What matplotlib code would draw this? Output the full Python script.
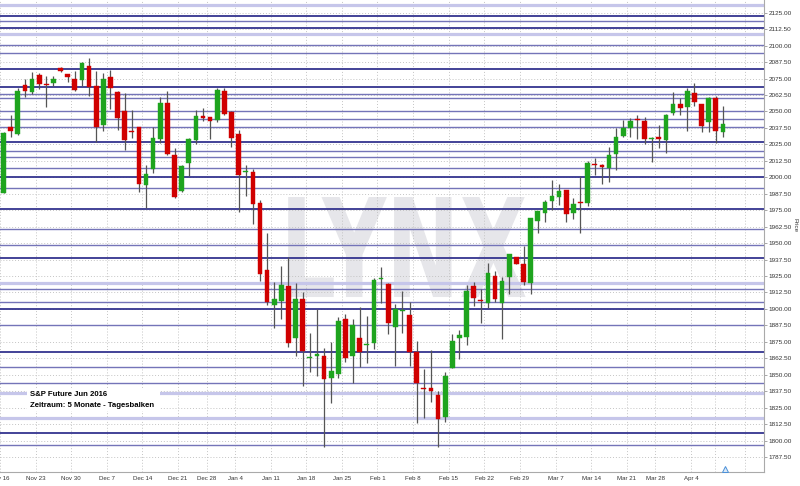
import matplotlib
matplotlib.use("Agg")
import matplotlib.pyplot as plt
from matplotlib.textpath import TextPath
from matplotlib.patches import PathPatch, Rectangle
from matplotlib.font_manager import FontProperties
from matplotlib.transforms import Affine2D

# ---- data (S&P Future Jun 2016, daily bars) ----
opens = [1988.3, 2038.2, 2032.6, 2069.9, 2064.5, 2077.9, 2071.0, 2071.8, 2083.2, 2078.6,
         2074.9, 2073.9, 2084.5, 2069.1, 2039.7, 2076.4, 2065.0, 2050.3, 2035.3, 2038.0,
         1994.1, 2006.3, 2028.8, 2056.2, 2016.9, 1989.3, 2010.6, 2028.3, 2046.3, 2045.5,
         2043.5, 2065.5, 2049.8, 2032.6, 2004.0, 2004.0, 1980.2, 1929.6, 1902.7, 1906.2,
         1917.2, 1878.1, 1907.5, 1862.7, 1864.4, 1864.2, 1847.5, 1850.5, 1892.3, 1864.0,
         1878.1, 1872.2, 1873.9, 1922.5, 1918.9, 1886.0, 1898.6, 1895.3, 1867.0, 1839.8,
         1840.1, 1834.6, 1818.1, 1855.3, 1878.1, 1878.9, 1917.4, 1906.9, 1904.3, 1925.0,
         1904.7, 1924.0, 1939.2, 1933.9, 1919.9, 1967.0, 1972.6, 1982.0, 1985.2, 1990.3,
         1972.6, 1981.1, 1980.2, 2010.2, 2009.5, 2007.3, 2017.4, 2031.6, 2037.2, 2043.8,
         2043.0, 2029.2, 2030.8, 2028.3, 2049.0, 2055.6, 2053.1, 2064.2, 2055.6, 2042.2,
         2060.0, 2034.6]
highs = [2034.3, 2047.3, 2067.6, 2074.6, 2080.2, 2079.4, 2076.9, 2076.9, 2083.7, 2078.8,
         2080.7, 2087.6, 2090.4, 2081.0, 2079.0, 2081.5, 2065.3, 2063.8, 2051.1, 2038.3,
         2009.5, 2038.2, 2061.2, 2065.8, 2022.5, 2009.0, 2029.6, 2051.1, 2052.4, 2045.8,
         2067.6, 2067.6, 2050.1, 2035.9, 2009.1, 2006.0, 1982.7, 1957.9, 1920.7, 1932.6,
         1939.2, 1919.4, 1913.1, 1881.5, 1899.7, 1870.1, 1874.6, 1894.1, 1895.9, 1892.1,
         1901.6, 1894.8, 1923.7, 1932.1, 1919.9, 1903.7, 1913.6, 1905.5, 1875.6, 1854.3,
         1868.8, 1837.9, 1852.3, 1880.9, 1884.0, 1918.1, 1920.7, 1914.9, 1934.7, 1929.0,
         1924.5, 1942.0, 1939.5, 1947.8, 1969.2, 1974.7, 1982.7, 1997.9, 1994.9, 1990.6,
         1984.5, 2001.0, 2012.4, 2014.9, 2009.8, 2023.2, 2037.6, 2043.5, 2045.0, 2047.3,
         2045.6, 2030.8, 2039.7, 2048.1, 2064.5, 2060.0, 2068.0, 2071.4, 2055.9, 2061.2,
         2061.7, 2054.1]
lows = [1987.8, 2030.8, 2032.1, 2061.2, 2063.5, 2066.8, 2053.1, 2069.3, 2080.0, 2072.6,
        2065.8, 2069.6, 2062.0, 2027.0, 2034.9, 2051.6, 2035.9, 2020.7, 2029.6, 1989.0,
        1976.4, 2003.5, 2025.8, 2016.7, 1984.5, 1988.8, 2001.2, 2025.3, 2043.0, 2028.8,
        2041.7, 2047.5, 2023.2, 1973.4, 1985.8, 1964.5, 1921.4, 1902.7, 1885.3, 1892.6,
        1871.3, 1864.4, 1841.7, 1852.3, 1849.3, 1795.3, 1828.3, 1847.7, 1859.9, 1843.5,
        1856.1, 1858.6, 1869.5, 1904.3, 1880.7, 1856.6, 1881.9, 1856.6, 1813.1, 1817.4,
        1829.1, 1794.9, 1814.3, 1854.9, 1861.7, 1872.8, 1902.4, 1889.5, 1900.5, 1905.0,
        1877.1, 1911.3, 1933.8, 1917.9, 1911.3, 1957.4, 1966.2, 1975.1, 1978.9, 1966.2,
        1968.3, 1957.9, 1978.2, 2001.7, 1994.7, 1996.6, 2005.3, 2030.8, 2030.8, 2028.8,
        2025.3, 2011.8, 2022.0, 2018.7, 2047.3, 2047.3, 2035.4, 2054.1, 2034.6, 2034.6,
        2026.3, 2030.4]
closes = [2033.8, 2035.1, 2065.8, 2065.8, 2074.6, 2070.8, 2070.4, 2074.9, 2080.5, 2076.4,
          2066.3, 2086.5, 2068.3, 2038.0, 2074.6, 2067.8, 2044.8, 2028.3, 2034.7, 1994.9,
          2002.5, 2030.1, 2056.6, 2017.7, 1985.2, 2008.6, 2029.3, 2046.5, 2045.0, 2043.0,
          2066.3, 2048.1, 2029.6, 2002.0, 2005.1, 1979.5, 1926.3, 1905.0, 1907.3, 1917.9,
          1874.3, 1907.3, 1868.0, 1863.8, 1865.5, 1847.0, 1853.1, 1891.0, 1862.5, 1887.8,
          1867.5, 1873.0, 1922.0, 1923.4, 1889.5, 1899.7, 1899.3, 1867.0, 1843.9, 1839.0,
          1837.9, 1816.1, 1849.3, 1875.6, 1880.2, 1913.8, 1908.1, 1906.2, 1927.5, 1907.5,
          1921.2, 1941.5, 1934.1, 1920.4, 1968.8, 1974.4, 1981.4, 1985.8, 1989.6, 1971.9,
          1979.7, 1980.3, 2010.6, 2009.5, 2007.6, 2016.9, 2030.8, 2037.6, 2043.0, 2043.2,
          2029.3, 2030.0, 2028.8, 2047.3, 2055.6, 2052.4, 2065.8, 2057.4, 2038.9, 2060.4,
          2035.4, 2040.5]

week_labels = ["Nov 16", "Nov 23", "Nov 30", "Dec 7", "Dec 14", "Dec 21", "Dec 28",
               "Jan 4", "Jan 11", "Jan 18", "Jan 25", "Feb 1", "Feb 8", "Feb 15",
               "Feb 22", "Feb 29", "Mar 7", "Mar 14", "Mar 21", "Mar 28", "Apr 4"]
week_first_bar = [0, 5, 10, 15, 20, 25, 29, 33, 38, 43, 48, 53, 58, 63, 68, 73, 78,
                  83, 88, 92, 97]
extra_grid_x = [99.9, 104.1]

# horizontal support/resistance lines (price, strength)
level_prices = [2131.1, 2122.5, 2118.9, 2113.2, 2108.8, 2100.5, 2094.2, 2082.0, 2068.8,
                2063.2, 2060.0, 2050.3, 2044.3, 2038.0, 2027.0, 2020.0, 2015.2, 2006.8,
                2000.4, 1991.6, 1975.7, 1960.9, 1948.3, 1938.5, 1919.9, 1914.9, 1905.0,
                1899.7, 1887.8, 1867.0, 1855.6, 1843.5, 1835.9, 1817.4, 1805.5, 1796.6]
level_kind = ["l", "d", "m", "d", "l", "m", "m", "d", "d",
              "m", "m", "m", "m", "m", "d", "m", "m", "m",
              "d", "m", "d", "m", "m", "d", "l", "m", "m",
              "d", "m", "d", "m", "m", "l", "l", "d", "m"]

y_ticks = [1787.5 + 12.5 * k for k in range(28)]

# ---- figure ----
W, H = 800, 486
fig = plt.figure(figsize=(W / 100, H / 100), dpi=100)
ax = fig.add_axes([0, 14 / H, 764 / W, 472 / H])
ax.set_facecolor("white")

x_left = -1.7 / 7.14
x_right = (764 - 1.7) / 7.14
ax.set_xlim(x_left, x_right)
ax.set_ylim(1776.1, 2134.65)

# watermark
fp = FontProperties(family="DejaVu Sans", weight="bold")
tp = TextPath((0, 0), "LYNX", prop=fp, size=1)
ext = tp.get_extents()
x0d, x1d = (287 - 1.7) / 7.14, (525 - 1.7) / 7.14
y0d, y1d = 2134.65 - 297 * 0.75965, 2134.65 - 197 * 0.75965
tr = (Affine2D().translate(-ext.x0, -ext.y0)
      .scale((x1d - x0d) / ext.width, (y1d - y0d) / ext.height)
      .translate(x0d, y0d))
ax.add_patch(PathPatch(tr.transform_path(tp), facecolor="#e6e6ea", edgecolor="none", zorder=0))

# dotted grid
for yt in y_ticks:
    ax.axhline(yt, color="#c4c4c4", lw=0.7, ls=(0, (1, 2)), zorder=1)
for b in week_first_bar:
    ax.axvline(b - 0.5, color="#c4c4c4", lw=0.7, ls=(0, (1, 2)), zorder=1)
for xg in extra_grid_x:
    ax.axvline(xg, color="#c4c4c4", lw=0.7, ls=(0, (1, 2)), zorder=1)

styles = {"d": ("#34348f", 1.3), "m": ("#7474b8", 1.0), "l": ("#c6c6ea", 2.3)}
for p, k in zip(level_prices, level_kind):
    c, lw = styles[k]
    ax.axhline(p, color=c, lw=lw, zorder=2)

# candles
green, red = "#1ea41e", "#d00000"
n = len(opens)
for i in range(n):
    o, h, l, c = opens[i], highs[i], lows[i], closes[i]
    col = green if c >= o else red
    ax.vlines(i, l, h, color="#555555", lw=0.9, zorder=3)
    bot = min(o, c)
    ht = max(abs(c - o), 0.8)
    ax.bar(i, ht, bottom=bot, width=0.66, color=col, edgecolor=col, lw=0.3, zorder=4)

# legend box (white background + two text lines)
fig.patches.append(Rectangle((27 / W, (H - 411) / H), 133 / W, 23 / H,
                             transform=fig.transFigure, facecolor="white",
                             edgecolor="none", zorder=5))
fig.text(30 / W, 1 - 394.5 / H, "S&P Future Jun 2016", fontsize=5.6, fontweight="bold",
         family="Liberation Sans", va="center", ha="left", zorder=6)
fig.text(30 / W, 1 - 405 / H, "Zeitraum: 5 Monate - Tagesbalken", fontsize=5.6,
         fontweight="bold", family="Liberation Sans", va="center", ha="left", zorder=6)

# axes styling
for s in ["left", "top"]:
    ax.spines[s].set_visible(False)
ax.spines["right"].set_color("#aaaaaa")
ax.spines["bottom"].set_color("#aaaaaa")
ax.spines["right"].set_linewidth(0.8)
ax.spines["bottom"].set_linewidth(0.8)

ax.yaxis.tick_right()
ax.set_yticks(y_ticks)
ax.set_yticklabels([f"{v:.2f}" for v in y_ticks], fontsize=4.6, color="#333333",
                   family="Liberation Sans")
ax.tick_params(axis="y", length=2, width=0.6, color="#999999", pad=1.5)

ax.set_xticks([b - 0.5 for b in week_first_bar])
ax.set_xticklabels(week_labels, fontsize=4.4, color="#333333", family="Liberation Sans")
ax.tick_params(axis="x", length=0, pad=3)

fig.text(795 / W, 1 - 225 / H, "Price", rotation=270, fontsize=4.5, color="#333333",
         ha="center", va="center", family="Liberation Sans")

# small triangle marker
ax.plot([(725 - 1.7) / 7.14], [2134.65 - 468.5 * 0.75965], marker="^", ms=4.5,
        mfc="#dbe9f7", mec="#4a90d9", mew=0.7, clip_on=False, zorder=6)

fig.savefig("out.png", dpi=100, facecolor="white")
